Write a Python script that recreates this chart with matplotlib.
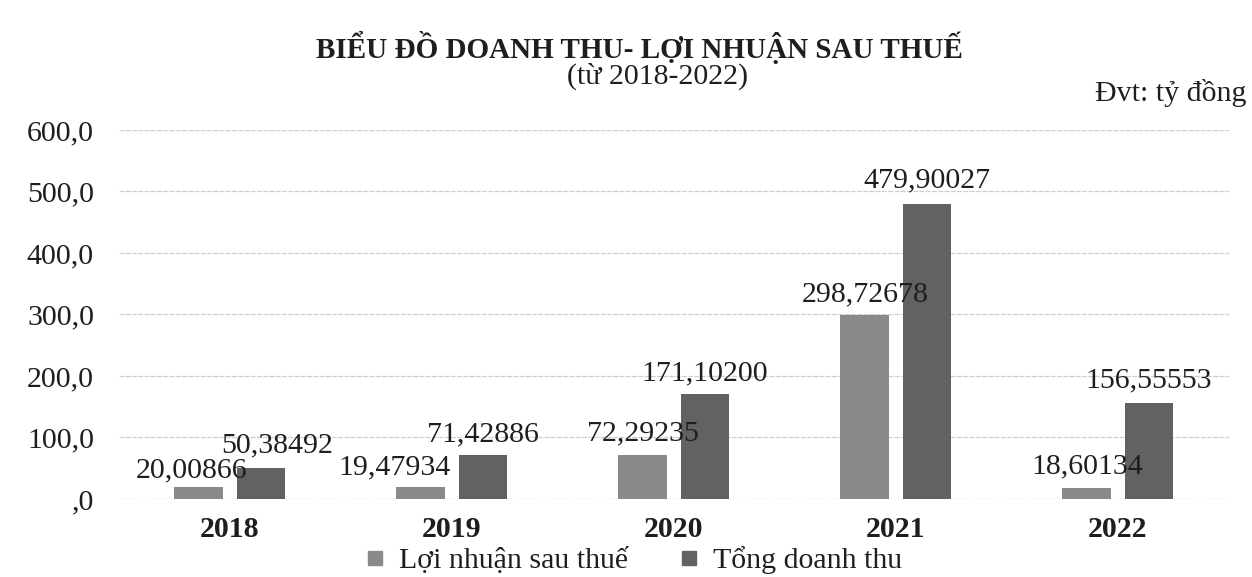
import matplotlib
matplotlib.use("Agg")
import matplotlib.pyplot as plt
from matplotlib.lines import Line2D
import numpy as np

years = ["2018", "2019", "2020", "2021", "2022"]
loi_nhuan = [20.00866, 19.47934, 72.29235, 298.72678, 18.60134]
doanh_thu = [50.38492, 71.42886, 171.10200, 479.90027, 156.55553]
loi_nhuan_labels = ["20,00866", "19,47934", "72,29235", "298,72678", "18,60134"]
doanh_thu_labels = ["50,38492", "71,42886", "171,10200", "479,90027", "156,55553"]
yticks = [0, 100, 200, 300, 400, 500, 600]
ytick_labels = [",0", "100,0", "200,0", "300,0", "400,0", "500,0", "600,0"]
series_names = ["Lợi nhuận sau thuế", "Tổng doanh thu"]

# label nudges (points), as placed in the original chart
lp_dx = [-5, -19, 0, 0, 0]
lp_dy = [7, 9, 10, 10, 10]
dt_dx = [11.5, 0, 0, 0, 0]
dt_dy = [11, 10, 10, 12, 11]

plt.rcParams['font.family'] = ['Liberation Serif', 'DejaVu Serif']

c_light = "#8a8a8a"
c_dark = "#626262"
txt = "#1e1e1e"
FS = 21.5

fig = plt.figure(figsize=(12.52, 5.77), dpi=100)
ax = fig.add_axes([0.095, 0.1352, 0.8866, 0.6395])

x = np.arange(len(years))
w = 0.22
off = 0.14
b1 = ax.bar(x - off, loi_nhuan, w, color=c_light, zorder=3)
b2 = ax.bar(x + off, doanh_thu, w, color=c_dark, zorder=3)

for bars, labels, dxs, dys in ((b1, loi_nhuan_labels, lp_dx, lp_dy),
                               (b2, doanh_thu_labels, dt_dx, dt_dy)):
    for rect, lab, dx, dy in zip(bars, labels, dxs, dys):
        ax.annotate(lab, (rect.get_x() + rect.get_width() / 2, rect.get_height()),
                    xytext=(dx, dy), textcoords="offset points", ha="center", va="baseline",
                    fontsize=FS, color=txt, zorder=4)

ax.set_xlim(-0.5, len(years) - 0.5)
ax.set_ylim(0, 600)
ax.set_yticks(yticks)
ax.set_yticklabels(ytick_labels, fontsize=FS, color=txt)
ax.set_xticks(x)
ax.set_xticklabels(years, fontsize=FS, fontweight="bold", color=txt)
ax.tick_params(axis="y", length=0, pad=18)
ax.tick_params(axis="x", length=0, pad=12)
ax.grid(axis="y", color="#cfcfcf", linewidth=0.9, linestyle=(0, (4, 1)), zorder=0)
for s in ax.spines.values():
    s.set_visible(False)

fig.text(0.511, 0.9185, "BIỂU ĐỒ DOANH THU- LỢI NHUẬN SAU THUẾ", ha="center", va="center",
         fontsize=21, fontweight="bold", color=txt)
fig.text(0.525, 0.868, "(từ 2018-2022)", ha="center", va="center", fontsize=FS, color=txt)
fig.text(0.996, 0.839, "Đvt: tỷ đồng", ha="right", va="center", fontsize=FS, color=txt)

handles = [Line2D([], [], marker="s", linestyle="none", markersize=10, color=c_light),
           Line2D([], [], marker="s", linestyle="none", markersize=10, color=c_dark)]
fig.legend(handles, series_names, loc="center", bbox_to_anchor=(0.506, 0.029), ncol=2,
           frameon=False, fontsize=FS, handlelength=0.7, handletextpad=0.45, columnspacing=1.7,
           labelcolor=txt, borderpad=0.1)

fig.savefig("out.png", dpi=100, facecolor="white")
